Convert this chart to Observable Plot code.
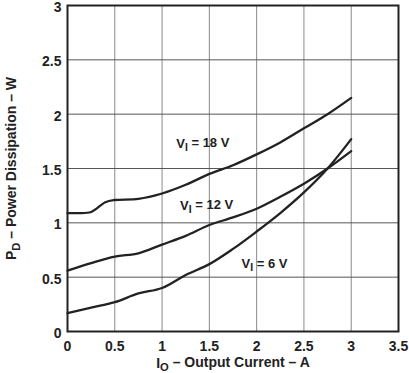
<!DOCTYPE html>
<html><head><meta charset="utf-8">
<script src="https://cdn.jsdelivr.net/npm/d3@7"></script>
<script src="https://cdn.jsdelivr.net/npm/@observablehq/plot@0.6"></script>
<style>
body{margin:0;background:#fff}
</style>
</head><body><div id="chart"></div>
<script>
// Data
const xTicks = [0, 0.5, 1, 1.5, 2, 2.5, 3, 3.5];
const yTicks = [0, 0.5, 1, 1.5, 2, 2.5, 3];

const current18 = [0, 0.1, 0.25, 0.4, 0.5, 0.75, 1, 1.25, 1.5, 1.75, 2, 2.25, 2.5, 2.75, 3];
const power18   = [1.09, 1.09, 1.10, 1.19, 1.21, 1.22, 1.27, 1.35, 1.45, 1.53, 1.63, 1.74, 1.87, 2.00, 2.15];

const current12 = [0, 0.25, 0.5, 0.75, 1, 1.25, 1.5, 1.75, 2, 2.25, 2.5, 2.75, 3];
const power12   = [0.56, 0.63, 0.69, 0.72, 0.80, 0.88, 0.98, 1.05, 1.13, 1.24, 1.36, 1.50, 1.66];

const current6 = [0, 0.25, 0.5, 0.75, 1, 1.25, 1.5, 1.75, 2, 2.25, 2.5, 2.75, 3];
const power6   = [0.17, 0.22, 0.27, 0.35, 0.40, 0.52, 0.62, 0.76, 0.92, 1.09, 1.28, 1.50, 1.77];

const seriesNames = ["18 V", "12 V", "6 V"];
const labelX = [1.15, 1.19, 1.84];
const labelY = [1.73, 1.16, 0.62];

const rows = [
  ...current18.map((x, i) => ({x, y: power18[i], s: "18 V"})),
  ...current12.map((x, i) => ({x, y: power12[i], s: "12 V"})),
  ...current6.map((x, i) => ({x, y: power6[i], s: "6 V"}))
];
const labels = seriesNames.map((s, i) => ({x: labelX[i], y: labelY[i], s}));

const chart = Plot.plot({
  width: 409,
  height: 373,
  marginLeft: 67,
  marginRight: 11,
  marginTop: 5,
  marginBottom: 42,
  style: {fontFamily: "'Liberation Sans', Arial, Helvetica, sans-serif", background: "#fff"},
  x: {domain: [0, 3.5]},
  y: {domain: [0, 3]},
  marks: [
    Plot.gridX(xTicks, {stroke: "#8a8a8a", strokeOpacity: 1, strokeWidth: 1}),
    Plot.gridY(yTicks, {stroke: "#555", strokeOpacity: 1, strokeWidth: 1}),
    Plot.frame({stroke: "#222", strokeWidth: 2}),
    Plot.axisX(xTicks, {tickSize: 0, tickPadding: 10, fontSize: 14, fontWeight: "bold", fill: "#222",
      tickFormat: d => String(d),
      label: "IO – Output Current – A", labelAnchor: "center", labelArrow: "none", labelOffset: 36}),
    Plot.axisY(yTicks, {tickSize: 0, tickPadding: 6, fontSize: 14, fontWeight: "bold", fill: "#222",
      tickFormat: d => String(d), dy: 2,
      label: "PD – Power Dissipation – W", labelAnchor: "center", labelArrow: "none", labelOffset: 61}),
    Plot.line(rows, {x: "x", y: "y", z: "s", stroke: "#222", strokeWidth: 2.3, curve: "catmull-rom"}),
    Plot.text(labels, {x: "x", y: "y", text: d => "VI = " + d.s, textAnchor: "start",
      fontSize: 13, fontWeight: "bold", fill: "#222"})
  ]
});
document.getElementById("chart").appendChild(chart);

// Add subscripts (V_I, P_D, I_O)
const svg = d3.select(chart);
svg.selectAll("text").each(function() {
  const t = d3.select(this);
  if (t.selectAll("tspan").size() > 0) return;
  const s = t.text();
  const m = s.match(/^(VI|PD|IO)( .*)$/);
  if (!m) return;
  t.text(null);
  t.append("tspan").text(m[1][0]);
  t.append("tspan").attr("dy", "0.3em").attr("font-size", "0.8em").text(m[1][1]);
  t.append("tspan").attr("dy", "-0.3em").text(m[2]);
});
svg.selectAll("[aria-label$='axis label'] text").attr("font-size", 14).attr("font-weight", "bold").attr("fill", "#222");
</script>
</body></html>
